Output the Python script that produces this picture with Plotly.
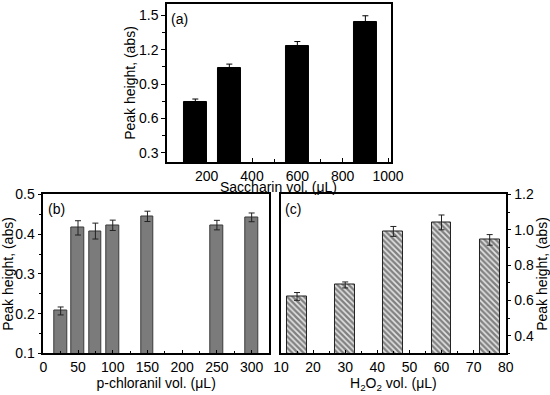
import plotly.graph_objects as go

# Panel (a): Saccharin volume
sac_vol = [150, 300, 600, 900]
sac_peak = [0.74, 1.04, 1.23, 1.447]
sac_err = [0.03, 0.035, 0.042, 0.05]

# Panel (b): p-chloranil volume
chl_vol = [25, 50, 75, 100, 150, 250, 300]
chl_peak = [0.207, 0.416, 0.408, 0.4225, 0.445, 0.423, 0.4425]
chl_err = [0.01, 0.018, 0.02, 0.013, 0.013, 0.012, 0.011]

# Panel (c): H2O2 volume
h2o2_vol = [15, 30, 45, 60, 75]
h2o2_peak = [0.623, 0.688, 0.991, 1.042, 0.943]
h2o2_err = [0.022, 0.017, 0.028, 0.042, 0.03]

FONT = "Liberation Sans, Arial, sans-serif"

fig = go.Figure()

fig.add_trace(go.Bar(
    x=sac_vol, y=sac_peak, width=100, xaxis="x", yaxis="y",
    marker=dict(color="black", line=dict(color="black", width=1)),
    error_y=dict(type="data", array=sac_err, symmetric=False, arrayminus=[0]*4,
                 color="black", thickness=1, width=3),
    showlegend=False,
))

fig.add_trace(go.Bar(
    x=chl_vol, y=chl_peak, width=18, xaxis="x2", yaxis="y2",
    marker=dict(color="#7b7b7b", line=dict(color="#3a3a3a", width=1)),
    error_y=dict(type="data", array=chl_err, color="#222", thickness=1, width=3),
    showlegend=False,
))

fig.add_trace(go.Bar(
    x=h2o2_vol, y=h2o2_peak, width=6.2, xaxis="x3", yaxis="y3",
    marker=dict(color="white", line=dict(color="#222", width=1),
                pattern=dict(shape="\\", fgcolor="#1e1e1e", bgcolor="#e4e4e4",
                             size=4, solidity=0.6)),
    error_y=dict(type="data", array=h2o2_err, color="#222", thickness=1, width=3),
    showlegend=False,
))

base_axis = dict(showline=True, linecolor="black", linewidth=1.5, mirror=True,
                 showgrid=False, zeroline=False, tickcolor="black",
                 tickfont=dict(size=14, color="black", family=FONT),
                 automargin=False)

fig.update_layout(
    width=550, height=395,
    margin=dict(l=0, r=0, t=0, b=0),
    paper_bgcolor="white", plot_bgcolor="white",
    font=dict(family=FONT, color="black", size=14),
    bargap=0,
    xaxis=dict(base_axis, domain=[0.3036, 0.7109], anchor="y", range=[25, 1013],
               tick0=0, dtick=200, ticks="inside", ticklen=4,
               minor=dict(ticks="inside", dtick=100, ticklen=3, tickcolor="black")),
    yaxis=dict(base_axis, domain=[0.5899, 0.9899], anchor="x", range=[0.22, 1.6],
               tick0=0.3, dtick=0.3, ticks="outside", ticklen=4, tickformat=".1f",
               minor=dict(ticks="outside", dtick=0.15, ticklen=3, tickcolor="black"),
               title=dict(text="Peak height, (abs)", standoff=0,
                          font=dict(size=14, family=FONT))),
    xaxis2=dict(base_axis, domain=[0.0787, 0.4891], anchor="y2", range=[0, 325],
                tick0=0, dtick=50, ticks="inside", ticklen=4,
                minor=dict(ticks="inside", dtick=25, ticklen=3, tickcolor="black"),
                title=dict(text="p-chloranil vol. (μL)", standoff=2,
                           font=dict(size=14, family=FONT))),
    yaxis2=dict(base_axis, domain=[0.1051, 0.5076], anchor="x2", range=[0.1, 0.5],
                tick0=0.1, dtick=0.1, ticks="outside", ticklen=4, tickformat=".1f",
                minor=dict(ticks="outside", dtick=0.05, ticklen=3, tickcolor="black"),
                title=dict(text="Peak height, (abs)", standoff=1,
                           font=dict(size=14, family=FONT))),
    xaxis3=dict(base_axis, domain=[0.5109, 0.9195], anchor="y3", range=[10, 80],
                tick0=10, dtick=10, ticks="inside", ticklen=4,
                minor=dict(ticks="inside", dtick=5, ticklen=3, tickcolor="black"),
                title=dict(text="H<sub>2</sub>O<sub>2</sub> vol. (μL)", standoff=2,
                           font=dict(size=14, family=FONT))),
    yaxis3=dict(base_axis, domain=[0.1051, 0.5076], anchor="x3", range=[0.3, 1.2],
                side="right", tick0=0.4, dtick=0.2, ticks="outside", ticklen=4,
                tickformat=".1f",
                minor=dict(ticks="outside", dtick=0.1, ticklen=3, tickcolor="black"),
                title=dict(text="Peak height, (abs)", standoff=2,
                           font=dict(size=14, family=FONT))),
)

# x-axis title of panel (a), placed just under its tick labels
fig.add_annotation(text="Saccharin vol. (μL)", xref="x domain", yref="paper",
                   x=0.5, y=1 - 187 / 395, xanchor="center", yanchor="middle",
                   showarrow=False, font=dict(size=14, family=FONT, color="black"))

for ax, label in [("x", "(a)"), ("x2", "(b)"), ("x3", "(c)")]:
    yref = "y" if ax == "x" else "y" + ax[1:]
    fig.add_annotation(text=label, xref=ax + " domain", yref=yref + " domain",
                       x=0.01, y=0.97, xanchor="left", yanchor="top",
                       showarrow=False, font=dict(size=14, family=FONT, color="black"))

fig.write_html("out.html", config={"displayModeBar": False},
               post_script="document.body.style.margin='0';document.body.style.overflow='hidden';")
